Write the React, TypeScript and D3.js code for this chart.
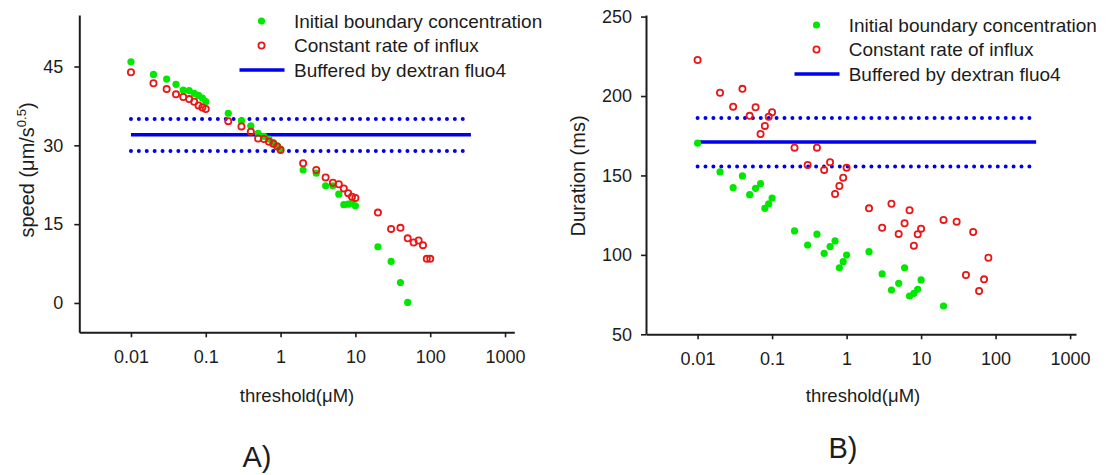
import React, { useRef, useEffect } from "react";
import * as d3 from "d3";

// threshold values (µM) shared by every series
const thresholds = [
  0.01, 0.02, 0.03, 0.04, 0.05, 0.06, 0.07, 0.08, 0.09, 0.1,
  0.2, 0.3, 0.4, 0.5, 0.6, 0.7, 0.8, 0.9, 1,
  2, 3, 4, 5, 6, 7, 8, 9, 10,
  20, 30, 40, 50, 60, 70, 80, 90, 100,
];

// panel A: speed (µm/s^0.5)
const speedInitial = [
  45.9, 43.5, 42.6, 41.6, 40.5, 40.4, 39.9, 39.5, 39.0, 38.3,
  36.1, 34.7, 33.7, 32.3, 31.7, 31.2, 30.5, 29.9, 29.3,
  25.3, 24.7, 22.3, 22.3, 20.7, 18.7, 18.8, 19.0, 18.5,
  10.7, 7.9, 3.9, 0.1,
];
const speedInflux = [
  43.9, 41.8, 40.7, 39.7, 39.2, 38.8, 38.3, 37.6, 37.2, 36.9,
  34.6, 33.6, 32.6, 31.3, 31.2, 30.7, 30.3, 29.8, 29.1,
  26.6, 25.3, 23.9, 22.9, 22.6, 21.8, 20.9, 20.2, 20.0,
  17.2, 14.1, 14.3, 12.3, 11.5, 11.9, 11.0, 8.4, 8.4,
];
const speedBuffered = [28.9, 32, 35]; // low, mean, high

// panel B: duration (ms)
const durationInitial = [
  170.3, 152.2, 142.3, 149.7, 137.9, 141.9, 144.8, 129.3, 132.1, 135.8,
  115.1, 106.2, 113, 101, 105.2, 108.8, 91.9, 95.7, 99.9,
  102, 88, 77.9, 82.1, 91.9, 74.1, 75.8, 78.3, 84.2,
  67.8,
];
const durationInflux = [
  222.7, 202.1, 193.3, 204.5, 187.5, 192.9, 176.1, 181.2, 187, 189.8,
  167.5, 156.6, 167.5, 153.5, 158.3, 138.3, 143.4, 148.6, 154.9,
  129.3, 117.1, 132.2, 113.2, 119.9, 128.1, 105.8, 113, 116.5,
  122, 120.9, 87.3, 114.4, 77.3, 84.6, 98.2,
];
const durationBuffered = [155.7, 171, 186.1];

const xTicks = [0.01, 0.1, 1, 10, 100, 1000];
const speedTicks = [0, 15, 30, 45];
const durationTicks = [50, 100, 150, 200, 250];
const legendLabels = [
  "Initial boundary concentration",
  "Constant rate of influx",
  "Buffered by dextran fluo4",
];
const lineStart = 0.01;
const solidEnd = 350;
const dottedEnd = 295;

const FONT = "'Liberation Sans', Arial, sans-serif";
const GREEN = "#00e800";
const RED = "#e81818";
const BLUE = "#0000ee";
const INK = "#1c1c1c";

function drawPanel(svg, p) {
  const g = svg.append("g");

  const x = d3.scaleLog().domain(p.xDomain).range(p.xRange);
  const y = d3.scaleLinear().domain(p.yDomain).range(p.yRange);

  // axes
  const xAxis = g.append("g")
    .attr("transform", `translate(0,${p.yRange[0]})`)
    .call(d3.axisBottom(x).tickValues(xTicks).tickFormat(d => String(d)).tickSize(5).tickSizeOuter(0).tickPadding(13));
  const yAxis = g.append("g")
    .attr("transform", `translate(${p.xRange[0]},0)`)
    .call(d3.axisLeft(y).tickValues(p.yTicks).tickSize(5).tickSizeOuter(0).tickPadding(p.yPad));

  [xAxis, yAxis].forEach(a => {
    a.select(".domain").attr("stroke", INK).attr("stroke-width", 2);
    a.selectAll(".tick line").attr("stroke", INK).attr("stroke-width", 1.6);
    a.selectAll(".tick text")
      .attr("fill", INK)
      .style("font-family", FONT)
      .style("font-size", "18px");
  });

  // buffered mean and band
  const [lo, mean, hi] = p.buffered;
  [lo, hi].forEach(v => {
    g.append("line")
      .attr("x1", x(lineStart)).attr("x2", x(dottedEnd))
      .attr("y1", y(v)).attr("y2", y(v))
      .attr("stroke", BLUE)
      .attr("stroke-width", 4)
      .attr("stroke-linecap", "round")
      .attr("stroke-dasharray", "0 7.9");
  });
  g.append("line")
    .attr("x1", x(lineStart)).attr("x2", x(solidEnd))
    .attr("y1", y(mean)).attr("y2", y(mean))
    .attr("stroke", BLUE)
    .attr("stroke-width", 3.5);

  // scatter
  g.selectAll("circle.init")
    .data(p.initial)
    .enter()
    .append("circle")
    .attr("class", "init")
    .attr("cx", (d, i) => x(thresholds[i]))
    .attr("cy", d => y(d))
    .attr("r", 3.6)
    .attr("fill", GREEN);

  g.selectAll("circle.influx")
    .data(p.influx)
    .enter()
    .append("circle")
    .attr("class", "influx")
    .attr("cx", (d, i) => x(thresholds[i]))
    .attr("cy", d => y(d))
    .attr("r", 3.1)
    .attr("fill", "none")
    .attr("stroke", RED)
    .attr("stroke-width", 1.8);

  // legend
  const L = p.legend;
  g.append("circle").attr("cx", L.mx).attr("cy", L.y0).attr("r", 3.6).attr("fill", GREEN);
  g.append("circle").attr("cx", L.mx).attr("cy", L.y0 + L.gap).attr("r", 3.1)
    .attr("fill", "none").attr("stroke", RED).attr("stroke-width", 1.8);
  g.append("line")
    .attr("x1", L.mx - 22).attr("x2", L.mx + 23)
    .attr("y1", L.y0 + 2 * L.gap).attr("y2", L.y0 + 2 * L.gap)
    .attr("stroke", BLUE).attr("stroke-width", 3.5);
  legendLabels.forEach((t, i) => {
    g.append("text")
      .attr("x", L.tx)
      .attr("y", L.y0 + i * L.gap)
      .attr("dy", "0.36em")
      .attr("fill", INK)
      .style("font-family", FONT)
      .style("font-size", "19px")
      .text(t);
  });

  // x label
  g.append("text")
    .attr("x", p.xLabelX)
    .attr("y", 402)
    .attr("text-anchor", "middle")
    .attr("fill", INK)
    .style("font-family", FONT)
    .style("font-size", "18.5px")
    .text("threshold(\u03bcM)");

  // y label
  const yl = g.append("text")
    .attr("transform", `translate(${p.yLabelX},${p.yLabelY}) rotate(-90)`)
    .attr("text-anchor", "middle")
    .attr("fill", INK)
    .style("font-family", FONT)
    .style("font-size", "20px");
  p.yLabel(yl);

  // panel letter
  g.append("text")
    .attr("x", p.letterX)
    .attr("y", p.letterY)
    .attr("text-anchor", "middle")
    .attr("fill", INK)
    .style("font-family", FONT)
    .style("font-size", "29px")
    .text(p.letter);
}

const App = () => {
  const svgRef = useRef(null);

  useEffect(() => {
    const svg = d3.select(svgRef.current);
    svg.selectAll("*").remove();

    drawPanel(svg, {
      xDomain: [0.00204, 1330],
      xRange: [79.3, 514.3],
      yDomain: [-5.58, 54.8],
      yRange: [332.3, 15],
      yTicks: speedTicks,
      yPad: 11,
      initial: speedInitial,
      influx: speedInflux,
      buffered: speedBuffered,
      legend: { mx: 261.5, tx: 294, y0: 21, gap: 24.5 },
      xLabelX: 297,
      yLabelX: 34,
      yLabelY: 170,
      yLabel: t => {
        t.append("tspan").text("speed (\u03bcm/s");
        t.append("tspan").attr("dy", -8).style("font-size", "13px").text("0.5");
        t.append("tspan").attr("dy", 8).text(")");
      },
      letter: "A)",
      letterX: 257,
      letterY: 467,
    });

    drawPanel(svg, {
      xDomain: [0.00203, 1200],
      xRange: [646, 1076],
      yDomain: [50, 251],
      yRange: [334.3, 15],
      yTicks: durationTicks,
      yPad: 9,
      initial: durationInitial,
      influx: durationInflux,
      buffered: durationBuffered,
      legend: { mx: 816.5, tx: 848.7, y0: 25, gap: 24.5 },
      xLabelX: 863,
      yLabelX: 585,
      yLabelY: 176,
      yLabel: t => t.text("Duration (ms)"),
      letter: "B)",
      letterX: 843,
      letterY: 458,
    });
  }, []);

  return (
    <div style={{ position: "absolute", left: 0, top: 0, width: 1107, height: 475, background: "#fff" }}>
      <svg ref={svgRef} width={1107} height={475}></svg>
    </div>
  );
};

export default App;
